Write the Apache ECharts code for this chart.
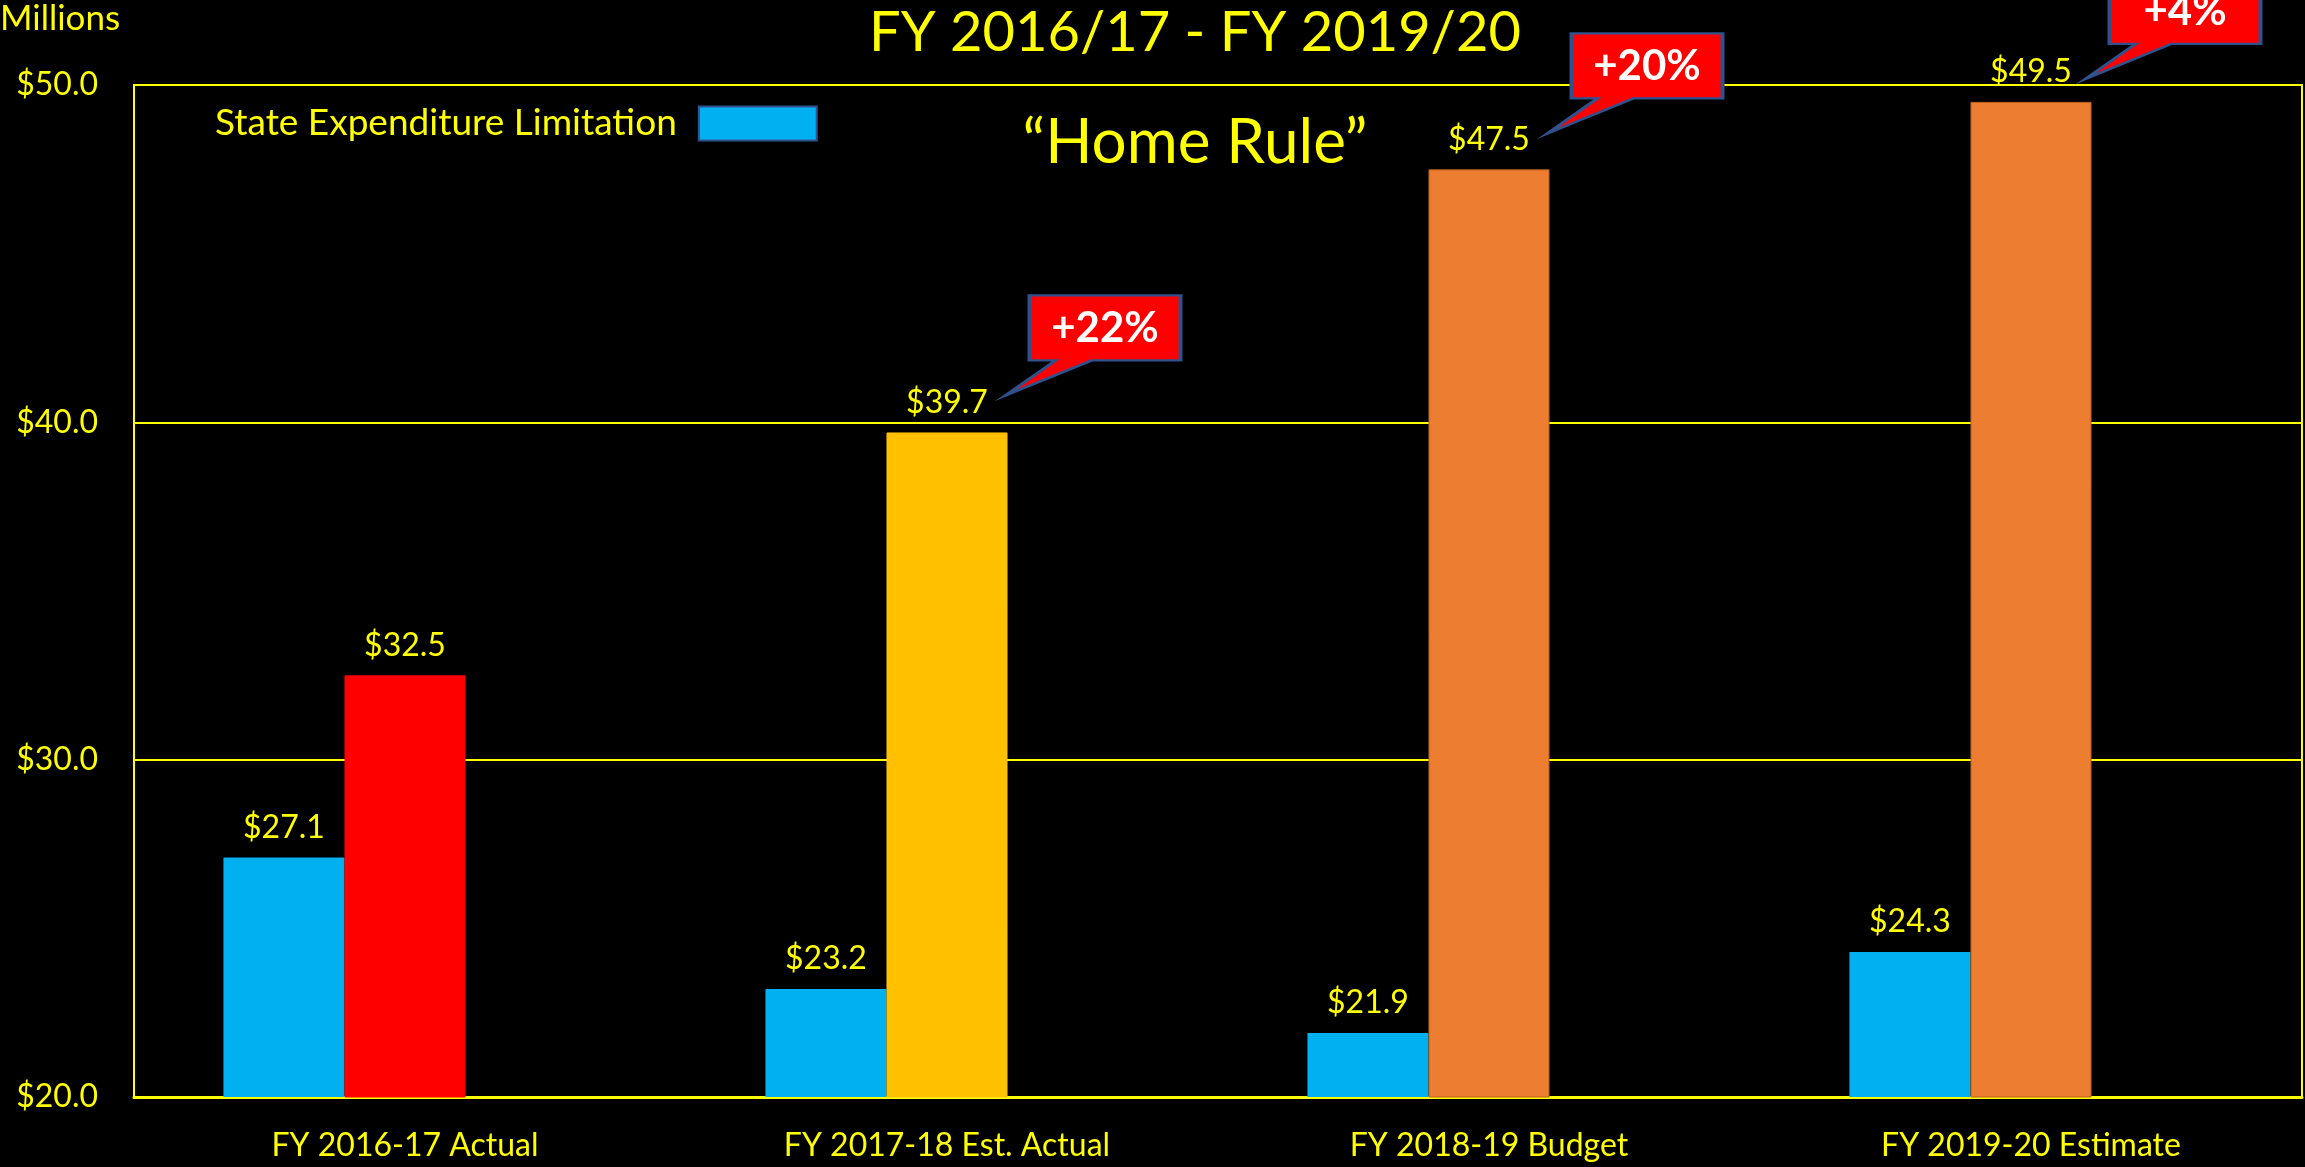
<!DOCTYPE html>
<html>
<head>
<meta charset="utf-8">
<title>FY 2016/17 - FY 2019/20</title>
<script src="https://cdn.jsdelivr.net/npm/echarts@6/dist/echarts.min.js"></script>
<style>
    html, body { margin: 0; padding: 0; background: #000; }
    #chartArea { width: 2305px; height: 1167px; }
</style>
</head>
<body>
<div id="chartArea"></div>
<script>
var categories = ['FY 2016-17 Actual', 'FY 2017-18 Est. Actual', 'FY 2018-19 Budget', 'FY 2019-20 Estimate'];
var limitValues = [27.1, 23.2, 21.9, 24.3];
var homeRuleValues = [32.5, 39.7, 47.5, 49.5];
var yTicks = [20, 30, 40, 50];

var homeRuleColors = ['#FF0000', '#FFC000', '#ED7D31', '#ED7D31'];
var homeRuleBorders = ['#FF0000', '#FFC000', '#B8601F', '#B8601F'];
// where each callout sits relative to the top of its bar
var calloutOffsets = [[146, -87], [146, -86], [142, -73]];

var FONT = "Lato, 'Open Sans', sans-serif";
var YELLOW = '#FFFF00';

var myChart = echarts.init(document.getElementById('chartArea'));

function money(v) {
    return '$' + Number(v).toFixed(1);
}

var homeRuleData = homeRuleValues.map(function(v, i) {
    return {
        value: v,
        itemStyle: { color: homeRuleColors[i], borderColor: homeRuleBorders[i], borderWidth: 1 }
    };
});

// year over year change, shown in the red callouts
var calloutData = [];
for (var i = 1; i < homeRuleValues.length; i++) {
    var pct = Math.round((homeRuleValues[i] / homeRuleValues[i - 1] - 1) * 100);
    calloutData.push({
        name: '+' + pct + '%',
        coord: [i, homeRuleValues[i]],
        symbolOffset: calloutOffsets[i - 1]
    });
}

var valueLabel = {
    show: true,
    position: 'top',
    distance: 14,
    color: YELLOW,
    fontSize: 32,
    fontFamily: FONT,
    formatter: function(p) { return money(p.value); }
};

var option = {
    backgroundColor: '#000000',
    animation: false,
    title: [{
        text: 'FY 2016/17 - FY 2019/20',
        left: 1190,
        top: 0,
        textAlign: 'center',
        textStyle: { color: YELLOW, fontSize: 56, fontWeight: 'normal', fontFamily: FONT }
    }, {
        text: '\u201CHome Rule\u201D',
        left: 1190,
        top: 107,
        textAlign: 'center',
        textStyle: { color: YELLOW, fontSize: 62, fontWeight: 'normal', fontFamily: FONT }
    }, {
        text: 'Millions',
        left: -5,
        top: -4,
        textStyle: { color: YELLOW, fontSize: 35, fontWeight: 'normal', fontFamily: FONT }
    }],
    legend: {
        data: ['State Expenditure Limitation'],
        left: 210,
        top: 100,
        align: 'right',
        icon: 'rect',
        itemWidth: 118,
        itemHeight: 34,
        itemStyle: { borderColor: '#2F528F', borderWidth: 2 },
        textStyle: { color: YELLOW, fontSize: 37, fontFamily: FONT, padding: [0, 17, 0, 0] }
    },
    grid: {
        left: 134,
        right: 3,
        top: 85,
        bottom: 70,
        show: true,
        borderColor: YELLOW,
        borderWidth: 2
    },
    xAxis: {
        type: 'category',
        data: categories,
        axisLine: { lineStyle: { color: YELLOW, width: 3 } },
        axisTick: { show: false },
        axisLabel: { color: YELLOW, fontSize: 32, fontFamily: FONT, margin: 33 },
        splitLine: { show: false }
    },
    yAxis: {
        type: 'value',
        min: yTicks[0],
        max: yTicks[yTicks.length - 1],
        interval: yTicks[1] - yTicks[0],
        axisLine: { show: true, lineStyle: { color: YELLOW, width: 2 } },
        axisTick: { show: false },
        axisLabel: { color: YELLOW, fontSize: 32, fontFamily: FONT, margin: 36, formatter: money },
        splitLine: { lineStyle: { color: YELLOW, width: 2 } }
    },
    series: [{
        name: 'State Expenditure Limitation',
        type: 'bar',
        data: limitValues,
        barGap: '0%',
        barCategoryGap: '33%',
        itemStyle: { color: '#00B0F0' },
        label: valueLabel
    }, {
        name: 'Home Rule',
        type: 'bar',
        data: homeRuleData,
        label: valueLabel,
        markPoint: {
            symbol: 'path://M24,0 L175,0 L175,65 L86,65 L0,100 L50,65 L24,65 Z',
            symbolSize: [175, 100],
            itemStyle: { color: '#FF0000', borderColor: '#2F528F', borderWidth: 3 },
            label: {
                show: true,
                position: 'inside',
                offset: [12, -17],
                color: '#FFFFFF',
                fontSize: 42,
                fontWeight: 'bold',
                fontFamily: FONT,
                formatter: function(p) { return p.name; }
            },
            emphasis: { disabled: true },
            data: calloutData
        }
    }, {
        // empty third slot, keeps the pairs left of the category centre
        name: 'spacer',
        type: 'bar',
        data: categories.map(function() { return '-'; })
    }]
};

myChart.setOption(option);
</script>
</body>
</html>
